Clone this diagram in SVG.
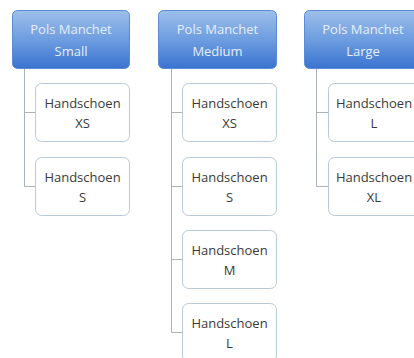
<svg xmlns="http://www.w3.org/2000/svg" width="414" height="358" viewBox="0 0 414 358">
<defs>
<linearGradient id="hg" x1="0" y1="0" x2="0" y2="1">
<stop offset="0" stop-color="#9dbfea"/>
<stop offset="0.5" stop-color="#6e9de0"/>
<stop offset="1" stop-color="#3a74d0"/>
</linearGradient>
<style>
.h{fill:url(#hg);stroke:#5b8bd4;stroke-width:1}
.ht{font-family:"Open Sans",sans-serif;font-size:13px;fill:#e4eefb;text-anchor:middle}
.c{fill:#ffffff;stroke:#b9c9d9;stroke-width:1}
.ct{font-family:"Open Sans",sans-serif;font-size:13px;fill:#3a3a3a;text-anchor:middle}
.l{fill:none;stroke:#a9b1ba;stroke-width:1}
</style>
</defs>
<rect width="414" height="358" fill="#ffffff"/>
<g id="connectors">
<path class="l" d="M24.5 68 V186.5 H35 M24.5 112.5 H35"/>
<path class="l" d="M171.5 68 V332.5 H182 M171.5 112.5 H182 M171.5 186.5 H182 M171.5 259.5 H182"/>
<path class="l" d="M316.5 68 V186.5 H328 M316.5 112.5 H328"/>
</g>
<g id="h1"><rect class="h" x="12.5" y="10.5" width="117" height="58" rx="5"/><text class="ht" x="71" y="34">Pols Manchet</text><text class="ht" x="71" y="56">Small</text></g>
<g id="h2"><rect class="h" x="158.5" y="10.5" width="118" height="58" rx="5"/><text class="ht" x="217.5" y="34">Pols Manchet</text><text class="ht" x="217.5" y="56">Medium</text></g>
<g id="h3"><rect class="h" x="304.5" y="10.5" width="118" height="58" rx="5"/><text class="ht" x="363" y="34">Pols Manchet</text><text class="ht" x="363" y="56">Large</text></g>
<g id="c1a"><rect class="c" x="35.5" y="83.5" width="94" height="58" rx="6"/><text class="ct" x="82.5" y="108">Handschoen</text><text class="ct" x="82.5" y="128">XS</text></g>
<g id="c1b"><rect class="c" x="35.5" y="157.5" width="94" height="58" rx="6"/><text class="ct" x="82.5" y="182">Handschoen</text><text class="ct" x="82.5" y="202">S</text></g>
<g id="c2a"><rect class="c" x="182.5" y="83.5" width="94" height="58" rx="6"/><text class="ct" x="229.5" y="108">Handschoen</text><text class="ct" x="229.5" y="128">XS</text></g>
<g id="c2b"><rect class="c" x="182.5" y="157.5" width="94" height="58" rx="6"/><text class="ct" x="229.5" y="182">Handschoen</text><text class="ct" x="229.5" y="202">S</text></g>
<g id="c2c"><rect class="c" x="182.5" y="230.5" width="94" height="58" rx="6"/><text class="ct" x="229.5" y="255">Handschoen</text><text class="ct" x="229.5" y="275">M</text></g>
<g id="c2d"><rect class="c" x="182.5" y="303.5" width="94" height="58" rx="6"/><text class="ct" x="229.5" y="328">Handschoen</text><text class="ct" x="229.5" y="348">L</text></g>
<g id="c3a"><rect class="c" x="328.5" y="83.5" width="94" height="58" rx="6"/><text class="ct" x="374" y="108">Handschoen</text><text class="ct" x="374" y="128">L</text></g>
<g id="c3b"><rect class="c" x="328.5" y="157.5" width="94" height="58" rx="6"/><text class="ct" x="374" y="182">Handschoen</text><text class="ct" x="374" y="202">XL</text></g>
</svg>
